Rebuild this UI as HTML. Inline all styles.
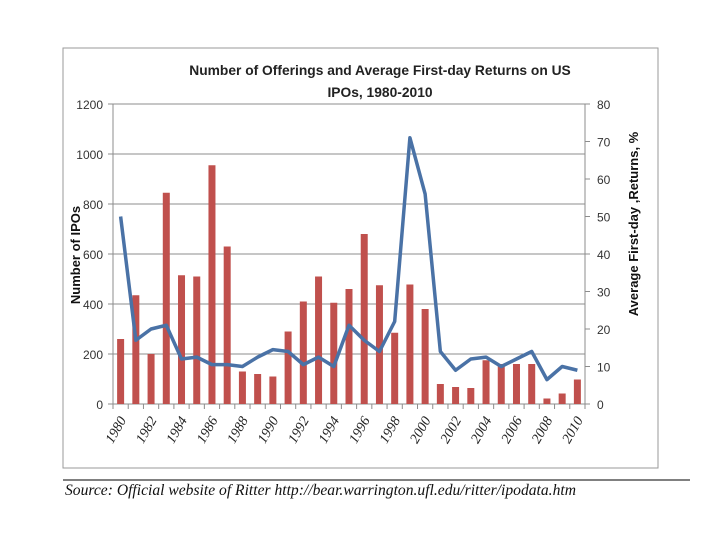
<!DOCTYPE html>
<html><head><meta charset="utf-8"><style>
body{margin:0;background:#fff;width:720px;height:540px;overflow:hidden}
svg{display:block}
text{font-family:"Liberation Sans",sans-serif}
</style></head><body>
<svg width="720" height="540">
<rect x="63" y="48" width="595" height="420" fill="#fff" stroke="#9a9a9a"/>
<g id="grid"></g><g id="bars"></g><g id="line"></g><g id="axes"></g>
<text x="380" y="75" text-anchor="middle" fill="#222" style="font-size:13.8px;font-weight:bold">Number of Offerings and Average First-day Returns on US</text>
<text x="380" y="97" text-anchor="middle" fill="#222" style="font-size:13.8px;font-weight:bold">IPOs, 1980-2010</text>
<text transform="translate(80,255) rotate(-90)" text-anchor="middle" font-size="13" font-weight="bold" fill="#111">Number of IPOs</text>
<text transform="translate(638,224) rotate(-90)" text-anchor="middle" font-size="13" font-weight="bold" fill="#111">Average First-day ,Returns, %</text>
<line x1="63" y1="480" x2="690" y2="480" stroke="#000"/>
<text x="65" y="495" fill="#111" style="font-family:'Liberation Serif',serif;font-style:italic;font-size:15.6px">Source: Official website of Ritter http://bear.warrington.ufl.edu/ritter/ipodata.htm</text>
</svg>
<script>
const years=[1980,1981,1982,1983,1984,1985,1986,1987,1988,1989,1990,1991,1992,1993,1994,1995,1996,1997,1998,1999,2000,2001,2002,2003,2004,2005,2006,2007,2008,2009,2010];
const ipoCounts=[260,435,200,845,515,510,955,630,130,120,110,290,410,510,405,460,680,475,285,478,380,80,68,64,175,160,160,160,22,42,98];
const returnsPct=[50,17,20,21,12,12.5,10.5,10.5,10,12.5,14.5,14,10.5,12.5,10,21,17,14,22,71,56,14,9,12,12.5,10,12,14,6.5,10,9];
const leftTicks=[0,200,400,600,800,1000,1200];
const rightTicks=[0,10,20,30,40,50,60,70,80];
const xLabels=[1980,1982,1984,1986,1988,1990,1992,1994,1996,1998,2000,2002,2004,2006,2008,2010];
const NS="http://www.w3.org/2000/svg";
const X0=113,X1=585,Y0=404,Y1=104,slot=(X1-X0)/years.length;
const xc=i=>X0+slot*(i+0.5);
const yL=v=>Y0-(v/1200)*(Y0-Y1);
const yR=v=>Y0-(v/80)*(Y0-Y1);
function mk(tag,attrs,parent){const e=document.createElementNS(NS,tag);for(const k in attrs)e.setAttribute(k,attrs[k]);document.getElementById(parent).appendChild(e);return e;}
leftTicks.forEach(t=>{
 const g=mk('line',{x1:X0,x2:X1,y1:yL(t),y2:yL(t),stroke:'#8c8c8c','stroke-width':1},'grid');
 
 
 const tx=mk('text',{x:X0-10,y:yL(t)+5,'text-anchor':'end','font-size':12,fill:'#333'},'axes');tx.textContent=t;
 
 
 mk('line',{x1:X0-5,x2:X0,y1:yL(t),y2:yL(t),stroke:'#8c8c8c'},'axes');
});
rightTicks.forEach(t=>{
 const tx=mk('text',{x:X1+12,y:yR(t)+5,'text-anchor':'start','font-size':12,fill:'#333'},'axes');tx.textContent=t;
 
 
 mk('line',{x1:X1,x2:X1+5,y1:yR(t),y2:yR(t),stroke:'#8c8c8c'},'axes');
});
mk('line',{x1:X0,x2:X0,y1:Y1,y2:Y0,stroke:'#8c8c8c'},'axes');
mk('line',{x1:X1,x2:X1,y1:Y1,y2:Y0,stroke:'#8c8c8c'},'axes');
for(let i=0;i<=years.length;i++)mk('line',{x1:X0+slot*i,x2:X0+slot*i,y1:Y0,y2:Y0+5,stroke:'#8c8c8c'},'axes');
ipoCounts.forEach((v,i)=>{
 const b=mk('rect',{x:xc(i)-3.5,y:yL(v),width:7,height:Y0-yL(v),fill:'#c0504d'},'bars');
 
 
});
const p=mk('polyline',{points:returnsPct.map((v,i)=>xc(i)+','+yR(v)).join(' '),fill:'none',stroke:'#4a72a6','stroke-width':3.5,'stroke-linejoin':'round'},'line');


xLabels.forEach(y=>{
 const i=years.indexOf(y);
 const t=mk('text',{transform:'translate('+(xc(i)+6)+','+(Y0+16)+') rotate(-60)','text-anchor':'end',fill:'#222',style:"font-family:'Liberation Serif',serif;font-style:italic;font-size:14px"},'axes');
 t.textContent=y;
 
 
});
</script>
</body></html>
